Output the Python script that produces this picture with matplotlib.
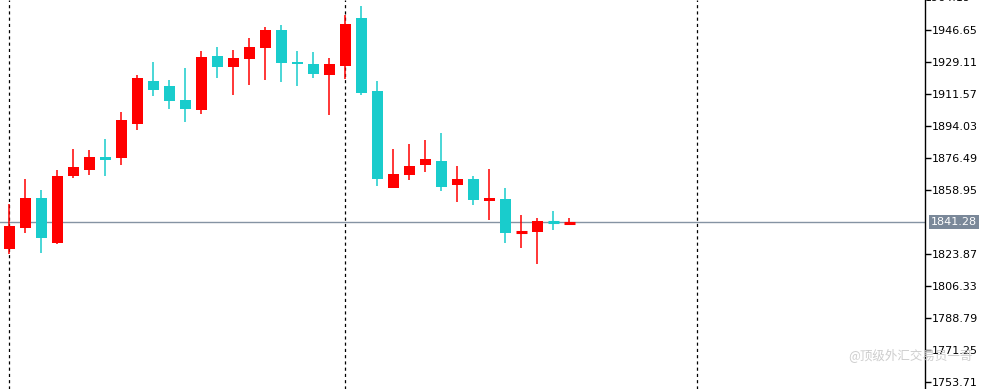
import matplotlib
matplotlib.use("Agg")
import matplotlib.pyplot as plt
import numpy as np

# ---- data ----
opens  = [1826.61, 1838.12, 1854.56, 1829.90, 1866.62, 1869.91, 1877.04, 1876.49, 1895.13, 1918.70,
          1915.95, 1908.28, 1902.80, 1932.40, 1926.37, 1930.75, 1936.78, 1946.65, 1929.11, 1928.01,
          1921.98, 1926.92, 1953.23, 1913.21, 1860.05, 1867.17, 1872.65, 1874.84, 1861.69, 1864.98,
          1852.92, 1854.02, 1835.38, 1835.93, 1841.41, 1840.86]
highs  = [1851.50, 1864.98, 1858.95, 1869.91, 1881.42, 1880.87, 1886.90, 1901.70, 1921.98, 1929.11,
          1919.24, 1925.82, 1935.14, 1937.33, 1935.69, 1942.26, 1948.29, 1949.39, 1935.14, 1934.59,
          1931.30, 1954.87, 1959.81, 1918.70, 1881.42, 1884.16, 1886.36, 1890.19, 1872.10, 1866.62,
          1870.46, 1860.05, 1845.25, 1843.60, 1847.44, 1843.60]
lows   = [1823.87, 1835.38, 1824.42, 1829.60, 1865.53, 1867.17, 1866.62, 1872.65, 1891.84, 1910.47,
          1903.35, 1896.22, 1900.61, 1920.34, 1911.02, 1916.50, 1919.24, 1918.15, 1915.95, 1920.34,
          1900.06, 1919.79, 1911.02, 1861.14, 1859.80, 1864.43, 1868.82, 1858.40, 1852.37, 1850.73,
          1842.51, 1829.90, 1827.16, 1818.39, 1837.02, 1840.31]
closes = [1839.22, 1854.56, 1832.64, 1866.62, 1871.56, 1877.04, 1875.39, 1897.32, 1920.34, 1913.76,
          1907.73, 1903.35, 1931.85, 1926.37, 1931.30, 1937.33, 1946.65, 1928.56, 1928.01, 1922.53,
          1928.01, 1949.94, 1912.12, 1864.98, 1867.72, 1872.10, 1875.94, 1860.59, 1864.98, 1853.47,
          1854.56, 1835.38, 1835.93, 1841.96, 1840.86, 1841.28]
separators = [0, 21, 43]           # period separator bar indices
current_price = 1841.28
tick_values = [1946.65, 1929.11, 1911.57, 1894.03, 1876.49, 1858.95,
               1823.87, 1806.33, 1788.79, 1771.25, 1753.71]
top_tick = 1964.19
watermark = "@顶级外汇交易员一哥"

UP = "#FF0000"
DOWN = "#19CCCC"

fig = plt.figure(figsize=(9.97, 3.89), dpi=100)
ax = fig.add_axes([0, 0, 925 / 997, 1])
ax.set_facecolor("white")

x = np.arange(len(opens))
o = np.array(opens); h = np.array(highs); l = np.array(lows); c = np.array(closes)
colors = [UP if cc >= oo else DOWN for oo, cc in zip(o, c)]

for sx in separators:
    ax.axvline(sx, color="black", lw=0.9, ls=(0, (2.5, 2.5)), zorder=1)

ax.axhline(current_price, color="#8593a3", lw=1.0, zorder=1)

ax.vlines(x, l, h, colors=colors, lw=1.1, zorder=2)
bw = 0.68
for xi, oo, cc, col in zip(x, o, c, colors):
    if abs(cc - oo) < 1.0:
        ax.hlines((oo + cc) / 2, xi - bw / 2, xi + bw / 2, colors=col, lw=2.2, zorder=3)
    else:
        ax.bar(xi, cc - oo, bottom=oo, width=bw, color=col, lw=0, zorder=3)

ax.set_xlim(-0.58, 57.23)
ax.set_ylim(1749.87, 1963.09)

for s in ["top", "left", "bottom"]:
    ax.spines[s].set_visible(False)
ax.spines["right"].set_color("black")
ax.spines["right"].set_linewidth(1.0)
ax.set_xticks([])
ax.yaxis.tick_right()
ax.set_yticks(tick_values)
ax.set_yticklabels([f"{v:.2f}" for v in tick_values])
ax.tick_params(axis="y", direction="out", length=4, width=1, color="black",
               labelsize=8, pad=1, labelcolor="black")

ax.text(1.0, top_tick, f"{top_tick:.2f}", transform=ax.get_yaxis_transform(),
        ha="left", va="center", fontsize=8, clip_on=False, color="black")
ax.text(1.0 + 6 / 925, current_price, f"{current_price:.2f}",
        transform=ax.get_yaxis_transform(), ha="left", va="center", fontsize=8,
        color="white", clip_on=False,
        bbox=dict(boxstyle="square,pad=0.2", fc="#7a8899", ec="none"))

fig.text(848 / 997, 1 - 355 / 389, watermark, ha="left", va="center", fontsize=9,
         color="#c8c8c8", family=["Noto Sans CJK SC", "DejaVu Sans"], alpha=0.9)

fig.savefig("out.png", dpi=100, facecolor="white")
